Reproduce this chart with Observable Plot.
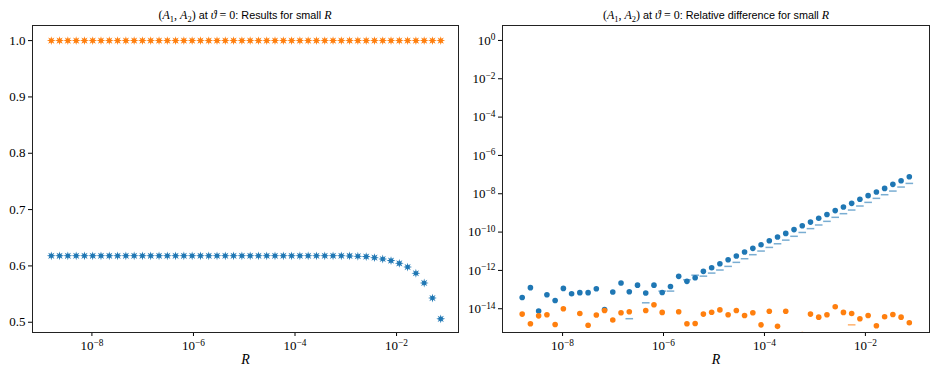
<!DOCTYPE html>
<html><head><meta charset="utf-8">
<script src="https://cdn.jsdelivr.net/npm/d3@7"></script>
<script src="https://cdn.jsdelivr.net/npm/@observablehq/plot@0.6"></script>
<style>
body{margin:0;background:#fff;}
#wrap{position:relative;width:938px;height:376px;overflow:hidden;background:#fff;}
.panel{position:absolute;top:0;}
.title{position:absolute;top:7px;line-height:16px;font-family:"Liberation Sans",Arial,sans-serif;font-size:10.8px;white-space:nowrap;transform:translateX(-50%);color:#000;}
.m{font-family:"Liberation Serif",serif;font-style:italic;font-size:12px;}
.u{font-family:"Liberation Serif",serif;font-size:12px;}
.s{font-family:"Liberation Serif",serif;font-size:8.5px;position:relative;top:2.5px;}
</style></head>
<body>
<div id="wrap">
  <div id="p1" class="panel" style="left:0px"></div>
  <div id="p2" class="panel" style="left:469px"></div>
  <div class="title" style="left:245px"><span class="u">(</span><span class="m">A</span><span class="s">1</span><span class="u">, </span><span class="m">A</span><span class="s">2</span><span class="u">)</span> at <span class="m">ϑ</span><span class="u"> = 0</span>: Results for small <span class="m">R</span></div>
  <div class="title" style="left:716px"><span class="u">(</span><span class="m">A</span><span class="s">1</span><span class="u">, </span><span class="m">A</span><span class="s">2</span><span class="u">)</span> at <span class="m">ϑ</span><span class="u"> = 0</span>: Relative difference for small <span class="m">R</span></div>
</div>
<script>
// ---- data ----
const log10R = [-8.800,-8.637,-8.474,-8.310,-8.147,-7.984,-7.821,-7.658,-7.494,-7.331,-7.168,-7.005,-6.842,-6.678,-6.515,-6.352,-6.189,-6.026,-5.862,-5.699,-5.536,-5.373,-5.210,-5.046,-4.883,-4.720,-4.557,-4.394,-4.230,-4.067,-3.904,-3.741,-3.578,-3.414,-3.251,-3.088,-2.925,-2.762,-2.598,-2.435,-2.272,-2.109,-1.946,-1.782,-1.619,-1.456,-1.293,-1.130];
const A1 = [0.618,0.618,0.618,0.618,0.618,0.618,0.618,0.618,0.618,0.618,0.618,0.618,0.618,0.618,0.618,0.618,0.618,0.618,0.618,0.618,0.618,0.618,0.618,0.618,0.618,0.618,0.618,0.618,0.618,0.618,0.618,0.618,0.618,0.618,0.618,0.618,0.6178,0.6172,0.6165,0.6147,0.6123,0.6094,0.6046,0.598,0.587,0.5697,0.543,0.506];
const A2 = [1,1,1,1,1,1,1,1,1,1,1,1,1,1,1,1,1,1,1,1,1,1,1,1,1,1,1,1,1,1,1,1,1,1,1,1,1,1,1,1,1,1,1,1,1,1,1,1];
// log10 of relative differences
const relA1dot = [-13.41,-12.90,-14.12,-13.27,-13.57,-12.94,-13.22,-13.16,-13.16,-12.96,-14.04,-13.13,-12.66,-13.11,-12.77,-13.18,-12.77,-13.15,-12.84,-12.31,-12.57,-12.38,-12.05,-11.86,-11.65,-11.44,-11.25,-11.04,-10.85,-10.66,-10.45,-10.26,-10.07,-9.87,-9.67,-9.48,-9.28,-9.08,-8.88,-8.69,-8.50,-8.29,-8.10,-7.91,-7.72,-7.51,-7.32,-7.11];
const relA1dash = [null,null,null,null,null,null,null,null,null,null,null,null,null,-14.52,null,-13.69,null,-13.08,-13.08,null,-12.49,-12.25,-12.30,-12.14,-11.98,-11.79,-11.58,-11.39,-11.18,-10.99,-10.80,-10.61,-10.42,-10.22,-10.02,-9.82,-9.63,-9.44,-9.23,-9.04,-8.85,-8.64,-8.45,-8.24,-8.05,-7.86,-7.65,-7.46];
const relA2dot = [-14.28,-14.78,-14.37,-14.31,-14.82,-14.00,null,-14.25,-14.86,-14.33,-14.09,-14.59,-14.21,-14.16,null,-14.09,-13.79,-14.19,null,-14.16,-14.78,-14.77,-14.28,-14.18,-14.06,-14.31,-14.09,-14.35,-14.21,-14.84,-14.13,-14.92,-14.13,null,-15.35,-14.28,-14.44,-14.31,-13.90,-14.19,-14.25,-14.52,-14.35,-14.89,-14.42,-14.30,-14.44,-14.73];
const relA2dash = [null,null,null,null,null,null,null,null,null,null,null,null,null,null,null,null,null,null,null,null,null,null,null,null,null,null,null,null,null,null,null,null,null,null,null,null,null,null,null,null,-14.84,null,null,null,null,null,null,null];
const xTicks = [1e-8, 1e-6, 1e-4, 1e-2];
const yTicksLeft = [0.5, 0.6, 0.7, 0.8, 0.9, 1.0];
const yTicksRight = [1e0, 1e-2, 1e-4, 1e-6, 1e-8, 1e-10, 1e-12, 1e-14];

const blue = "#1f77b4", orange = "#ff7f0e";
const R = log10R.map(e => Math.pow(10, e));
const rows = (vals, isLog) => vals.map((v, i) => ({R: R[i], v: v == null ? null : (isLog ? Math.pow(10, v) : v)})).filter(d => d.v != null);

const star8 = {draw(ctx, size) {
  const ro = Math.sqrt(size / Math.PI), ri = ro * 0.45;
  for (let i = 0; i < 16; i++) {
    const a = i * Math.PI / 8 - Math.PI / 2, r = i % 2 ? ri : ro;
    const x = r * Math.cos(a), y = r * Math.sin(a);
    i ? ctx.lineTo(x, y) : ctx.moveTo(x, y);
  }
  ctx.closePath();
}};
const hline = {draw(ctx, size) {
  const r = Math.sqrt(size / Math.PI);
  ctx.moveTo(-r, 0); ctx.lineTo(r, 0);
}};

const supFmt = d => "10^" + String(Math.round(Math.log10(d))).replace("-", "\u2212");

function fixSup(svg) {
  d3.select(svg).selectAll("text").each(function() {
    const t = this.textContent;
    if (t.indexOf("^") >= 0) {
      const [b, e] = t.split("^");
      while (this.firstChild) this.removeChild(this.firstChild);
      this.appendChild(document.createTextNode(b));
      const ts = document.createElementNS("http://www.w3.org/2000/svg", "tspan");
      ts.setAttribute("dy", "-0.45em");
      ts.setAttribute("font-size", "0.72em");
      ts.textContent = e;
      this.appendChild(ts);
    }
  });
  return svg;
}

const style = {fontFamily: "'Liberation Serif', serif", fontSize: "13px", background: "white", color: "black", overflow: "visible"};

const left = Plot.plot({
  width: 469, height: 376, marginLeft: 32, marginRight: 11, marginTop: 25, marginBottom: 44,
  style,
  x: {type: "log", domain: [Math.pow(10, -9.17), Math.pow(10, -0.78)]},
  y: {domain: [0.4818, 1.0268]},
  marks: [
    Plot.axisX({ticks: xTicks, tickFormat: supFmt, tickSize: 4, tickPadding: 4, label: null}),
    Plot.axisY({ticks: yTicksLeft, tickFormat: d3.format(".1f"), tickSize: 4, tickPadding: 3, label: null}),
    Plot.dot(rows(A1, false), {x: "R", y: "v", symbol: star8, r: 4.4, fill: blue, stroke: null}),
    Plot.dot(rows(A2, false), {x: "R", y: "v", symbol: star8, r: 4.4, fill: orange, stroke: null}),
    Plot.frame({stroke: "#222", strokeWidth: 1}),
    Plot.text(["R"], {frameAnchor: "bottom", dy: 31, fontStyle: "italic", fontSize: 14})
  ]
});

const right = Plot.plot({
  width: 469, height: 376, marginLeft: 33, marginRight: 9, marginTop: 25, marginBottom: 44,
  style,
  x: {type: "log", domain: [Math.pow(10, -9.19), Math.pow(10, -0.73)]},
  y: {type: "log", domain: [Math.pow(10, -15.24), Math.pow(10, 0.78)]},
  marks: [
    Plot.axisX({ticks: xTicks, tickFormat: supFmt, tickSize: 4, tickPadding: 4, label: null}),
    Plot.axisY({ticks: yTicksRight, tickFormat: supFmt, tickSize: 4, tickPadding: 3, label: null}),
    Plot.dot(rows(relA1dot, true), {x: "R", y: "v", r: 2.8, fill: blue, stroke: null, clip: true}),
    Plot.dot(rows(relA1dash, true), {x: "R", y: "v", symbol: hline, r: 3.8, stroke: blue, strokeOpacity: 0.6, strokeWidth: 1.5, fill: "none", clip: true}),
    Plot.dot(rows(relA2dot, true), {x: "R", y: "v", r: 2.8, fill: orange, stroke: null, clip: true}),
    Plot.dot(rows(relA2dash, true), {x: "R", y: "v", symbol: hline, r: 3.8, stroke: orange, strokeOpacity: 0.6, strokeWidth: 1.5, fill: "none", clip: true}),
    Plot.frame({stroke: "#222", strokeWidth: 1}),
    Plot.text(["R"], {frameAnchor: "bottom", dy: 31, fontStyle: "italic", fontSize: 14})
  ]
});

document.getElementById("p1").appendChild(fixSup(left));
document.getElementById("p2").appendChild(fixSup(right));
</script>
</body></html>
